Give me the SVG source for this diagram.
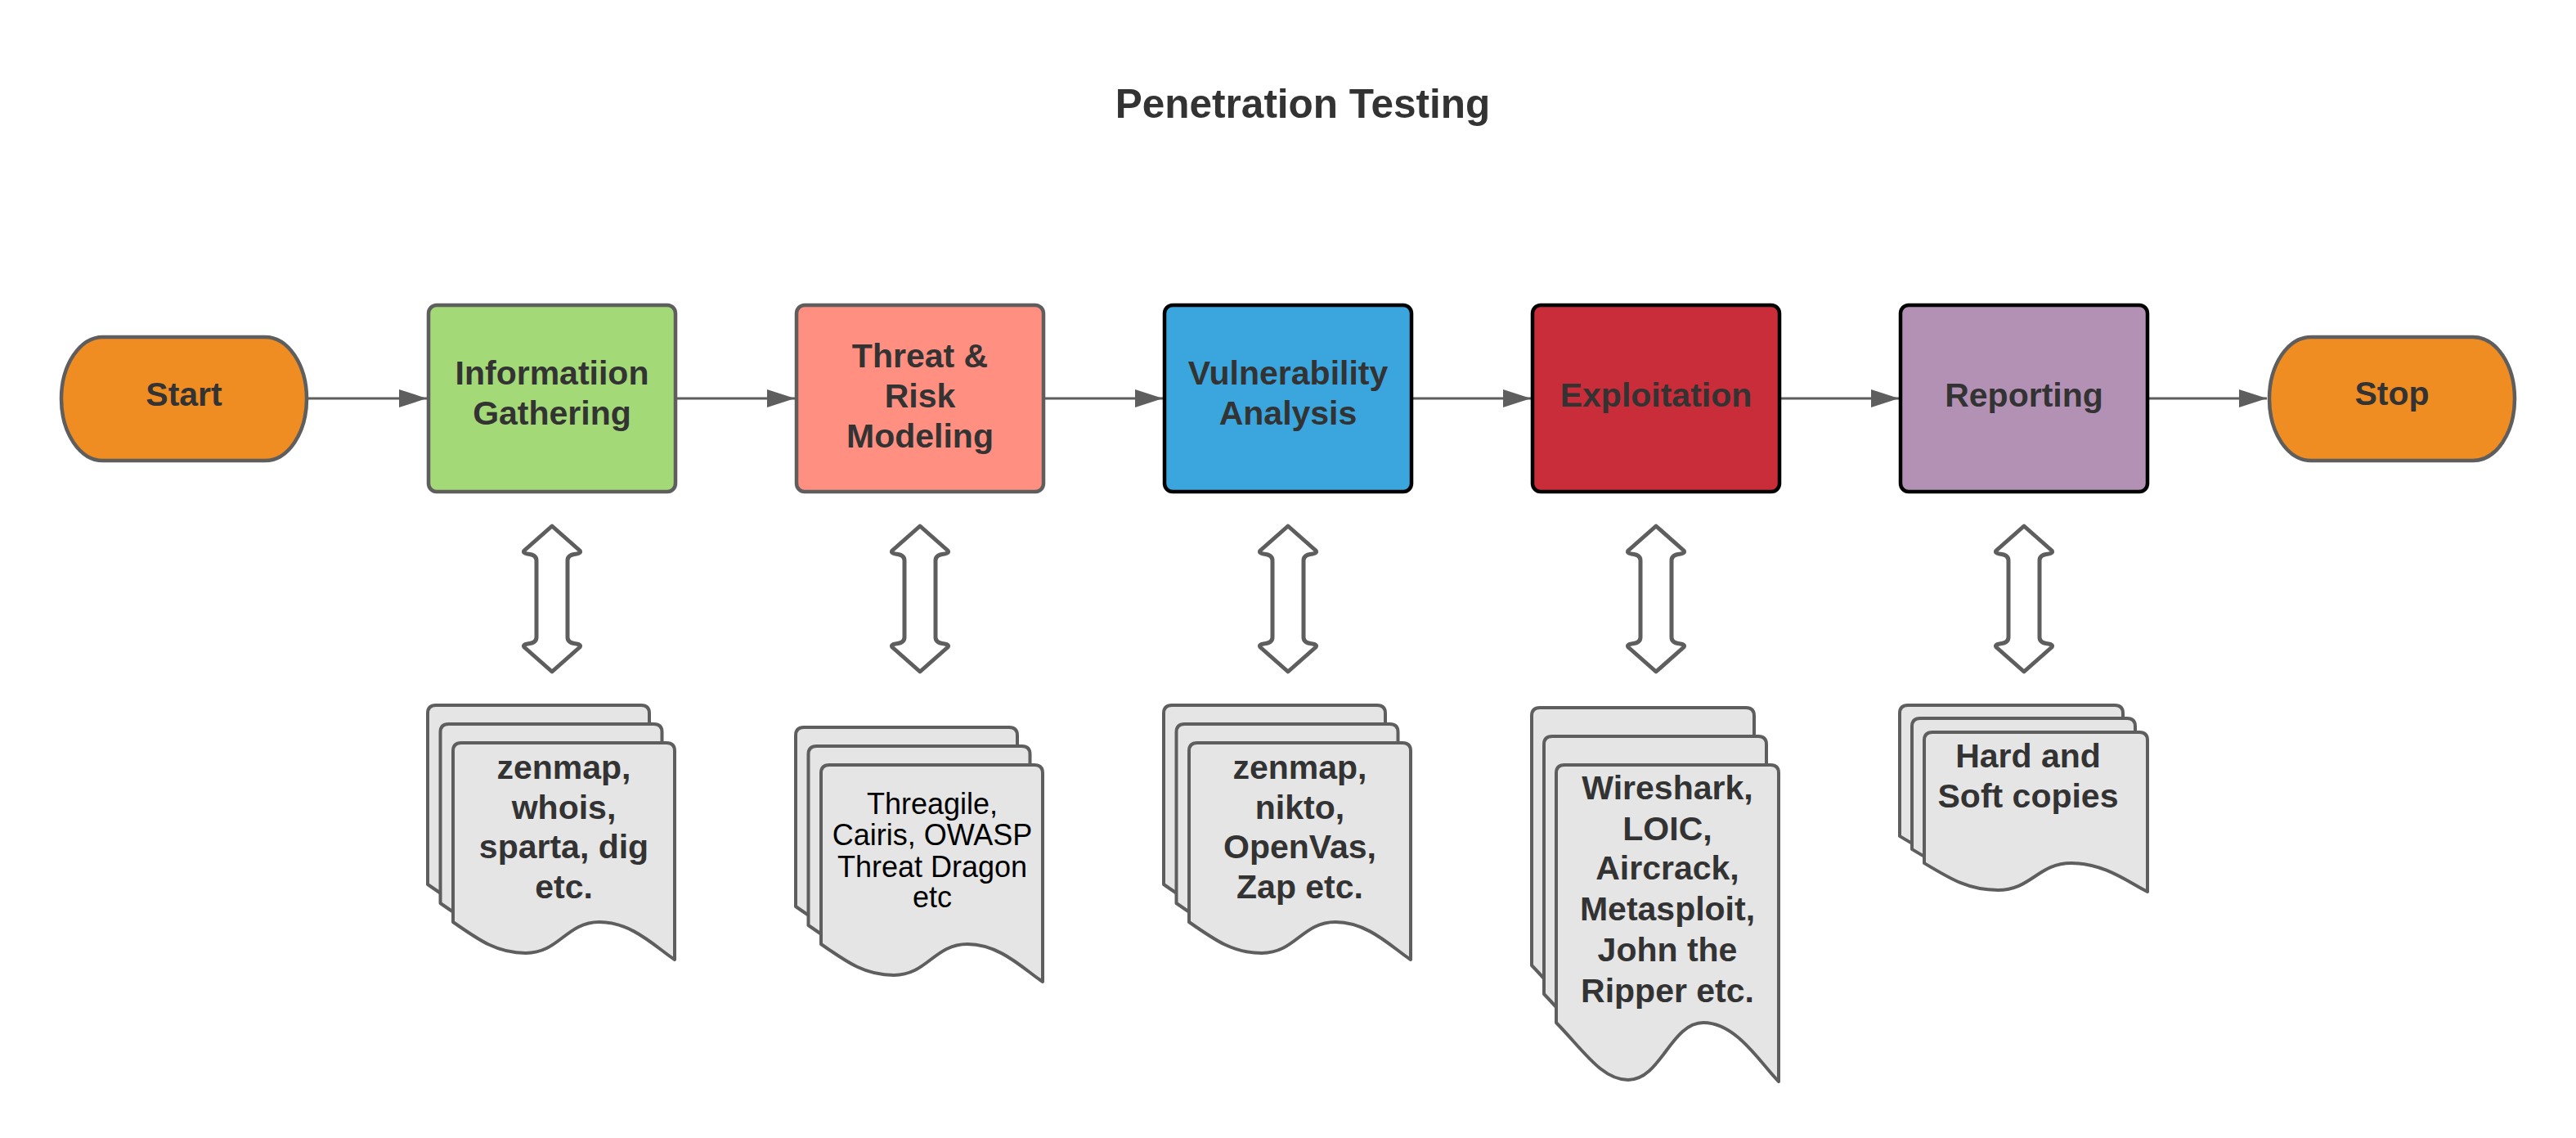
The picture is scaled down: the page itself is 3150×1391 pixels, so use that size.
<svg xmlns="http://www.w3.org/2000/svg" xmlns:xlink="http://www.w3.org/1999/xlink" width="3150" height="1391" viewBox="0 0 3150 1391">
<style>
.t{font-family:"Liberation Sans",Arial,sans-serif;fill:#333333;text-anchor:middle}
.b{font-weight:bold;font-size:41px}
.r{font-weight:normal;font-size:36px;fill:#000000}
.title{font-weight:bold;font-size:49.5px}
.term{fill:#EF8D22;stroke:#5E5E5E;stroke-width:4.5}
.box{stroke-width:4.5}
.g{stroke:#5E5E5E}
.k{stroke:#000000}
.doc{fill:#E5E5E5;stroke:#5E5E5E;stroke-width:4;stroke-linejoin:round}
.dbl{fill:#FFFFFF;stroke:#5E5E5E;stroke-width:5;stroke-linejoin:round}
.conn{stroke:#5E5E5E;stroke-width:3;fill:none}
</style>
<defs>
<marker id="ah" viewBox="0 0 34 22" refX="34" refY="11" markerWidth="34" markerHeight="22" markerUnits="userSpaceOnUse" orient="auto">
<path d="M0,0 L34,11 L0,22 Z" fill="#5E5E5E"/>
</marker>
<path id="docA" d="M0,219 C32.5,241.8 54.2,257 89,257 C129.7,257 138.3,219 179,219 C219.7,219 249.3,251.2 271,265 L271,10 Q271,0 261,0 L10,0 Q0,0 0,10 Z"/>
<path id="docB" d="M0,315 C34,350 56,385 88,385 C128,385 140,315 180,315 C220.8,315 250.2,365.4 272,387 L272,10 Q272,0 262,0 L10,0 Q0,0 0,10 Z"/>
<path id="docC" d="M0,160 C32.8,179.8 54.6,193 90,193 C130.9,193 139.1,160 180,160 C220.9,160 251.2,184.5 273,195 L273,10 Q273,0 263,0 L10,0 Q0,0 0,10 Z"/>
<path id="dbl" d="M0,0 L34,30 Q36,33 30,34 Q19,35 19,42 L19,136 Q19,143 30,144 Q36,145 34,148 L0,178 L-34,148 Q-36,145 -30,144 Q-19,143 -19,136 L-19,42 Q-19,35 -30,34 Q-36,33 -34,30 Z"/>
</defs>
<rect width="3150" height="1391" fill="#FFFFFF"/>
<text id="title" class="t title" x="1593" y="144">Penetration Testing</text>

<g id="connectors">
<line class="conn" x1="376" y1="487" x2="522" y2="487" marker-end="url(#ah)"/>
<line class="conn" x1="826" y1="487" x2="972" y2="487" marker-end="url(#ah)"/>
<line class="conn" x1="1276" y1="487" x2="1422" y2="487" marker-end="url(#ah)"/>
<line class="conn" x1="1726" y1="487" x2="1872" y2="487" marker-end="url(#ah)"/>
<line class="conn" x1="2176" y1="487" x2="2322" y2="487" marker-end="url(#ah)"/>
<line class="conn" x1="2626" y1="487" x2="2772" y2="487" marker-end="url(#ah)"/>
<use href="#dbl" class="dbl" transform="translate(675,643)"/>
<use href="#dbl" class="dbl" transform="translate(1125,643)"/>
<use href="#dbl" class="dbl" transform="translate(1575,643)"/>
<use href="#dbl" class="dbl" transform="translate(2025,643)"/>
<use href="#dbl" class="dbl" transform="translate(2475,643)"/>
</g>

<g id="start">
<path class="term" d="M126,412 H324 A51,75.5 0 0 1 324,563 H126 A51,75.5 0 0 1 126,412 Z"/>
<text class="t b" x="225" y="496">Start</text>
</g>
<g id="info">
<rect class="box g" x="524" y="373" width="302" height="228" rx="10" fill="#A3D977"/>
<text class="t b" x="675" y="470">Informatiion</text>
<text class="t b" x="675" y="519">Gathering</text>
</g>
<g id="threat">
<rect class="box g" x="974" y="373" width="302" height="228" rx="10" fill="#FF8F80"/>
<text class="t b" x="1125" y="449">Threat &amp;</text>
<text class="t b" x="1125" y="498">Risk</text>
<text class="t b" x="1125" y="547">Modeling</text>
</g>
<g id="vuln">
<rect class="box k" x="1424" y="373" width="302" height="228" rx="10" fill="#3AA6DD"/>
<text class="t b" x="1575" y="470">Vulnerability</text>
<text class="t b" x="1575" y="519">Analysis</text>
</g>
<g id="exploit">
<rect class="box k" x="1874" y="373" width="302" height="228" rx="10" fill="#C92D39"/>
<text class="t b" x="2025" y="497">Exploitation</text>
</g>
<g id="report">
<rect class="box k" x="2324" y="373" width="302" height="228" rx="10" fill="#B391B5"/>
<text class="t b" x="2475" y="497">Reporting</text>
</g>
<g id="stop">
<path class="term" d="M2826,412 H3024 A51,75.5 0 0 1 3024,563 H2826 A51,75.5 0 0 1 2826,412 Z"/>
<text class="t b" x="2925" y="495">Stop</text>
</g>

<g id="doc-info">
<use href="#docA" class="doc" transform="translate(523,862)"/>
<use href="#docA" class="doc" transform="translate(538.5,885)"/>
<use href="#docA" class="doc" transform="translate(554,908)"/>
<text class="t b" x="689.5" y="952">zenmap,</text>
<text class="t b" x="689.5" y="1001">whois,</text>
<text class="t b" x="689.5" y="1049">sparta, dig</text>
<text class="t b" x="689.5" y="1098">etc.</text>
</g>
<g id="doc-threat">
<use href="#docA" class="doc" transform="translate(973,889)"/>
<use href="#docA" class="doc" transform="translate(988.5,912)"/>
<use href="#docA" class="doc" transform="translate(1004,935)"/>
<text class="t r" x="1140" y="995">Threagile,</text>
<text class="t r" x="1140" y="1033">Cairis, OWASP</text>
<text class="t r" x="1140" y="1072">Threat Dragon</text>
<text class="t r" x="1140" y="1109">etc</text>
</g>
<g id="doc-vuln">
<use href="#docA" class="doc" transform="translate(1423,862)"/>
<use href="#docA" class="doc" transform="translate(1438.5,885)"/>
<use href="#docA" class="doc" transform="translate(1454,908)"/>
<text class="t b" x="1589.5" y="952">zenmap,</text>
<text class="t b" x="1589.5" y="1001">nikto,</text>
<text class="t b" x="1589.5" y="1049">OpenVas,</text>
<text class="t b" x="1589.5" y="1098">Zap etc.</text>
</g>
<g id="doc-exploit">
<use href="#docB" class="doc" transform="translate(1873,865)"/>
<use href="#docB" class="doc" transform="translate(1888,900)"/>
<use href="#docB" class="doc" transform="translate(1903,935)"/>
<text class="t b" x="2039" y="977">Wireshark,</text>
<text class="t b" x="2039" y="1027">LOIC,</text>
<text class="t b" x="2039" y="1075">Aircrack,</text>
<text class="t b" x="2039" y="1125">Metasploit,</text>
<text class="t b" x="2039" y="1175">John the</text>
<text class="t b" x="2039" y="1225">Ripper etc.</text>
</g>
<g id="doc-report">
<use href="#docC" class="doc" transform="translate(2323,862)"/>
<use href="#docC" class="doc" transform="translate(2338,878)"/>
<use href="#docC" class="doc" transform="translate(2353,895)"/>
<text class="t b" x="2480" y="938">Hard and</text>
<text class="t b" x="2480" y="987">Soft copies</text>
</g>
</svg>
